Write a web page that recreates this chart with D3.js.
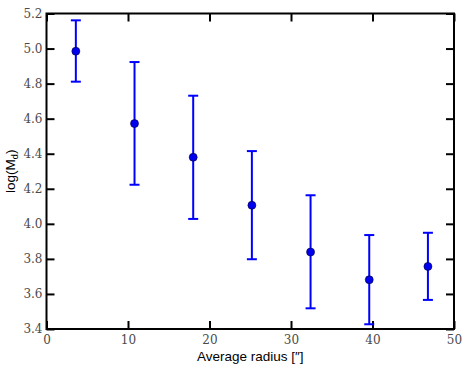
<!DOCTYPE html>
<html>
<head>
<meta charset="utf-8">
<script src="https://cdn.jsdelivr.net/npm/d3@7"></script>
<style>
    body { margin: 0; background: #fff; }
</style>
</head>
<body>
<div id="chart"></div>
<script>
// data
let radius = [3.6, 10.8, 18.0, 25.2, 32.4, 39.6, 46.8];
let logM = [4.985, 4.572, 4.380, 4.106, 3.839, 3.681, 3.757];
let errUp = [5.161, 4.923, 4.731, 4.415, 4.163, 3.936, 3.949];
let errLow = [4.811, 4.223, 4.028, 3.798, 3.518, 3.427, 3.566];
let xTicks = [0, 10, 20, 30, 40, 50];
let yTicks = [3.4, 3.6, 3.8, 4.0, 4.2, 4.4, 4.6, 4.8, 5.0, 5.2];

let points = radius.map((r, i) => ({x: r, y: logM[i], hi: errUp[i], lo: errLow[i]}));

// svg size and margins
let svgWidth = 468;
let svgHeight = 371;
let margin = {top: 13.5, right: 14, bottom: 42, left: 46.5};
let width = svgWidth - margin.left - margin.right;
let height = svgHeight - margin.top - margin.bottom;

let svg = d3.select('#chart')
    .append('svg')
    .attr('width', svgWidth)
    .attr('height', svgHeight);

let chartGroup = svg.append('g')
    .attr('transform', `translate(${margin.left}, ${margin.top})`);

let x = d3.scaleLinear().domain([0, 50]).range([0, width]);
let y = d3.scaleLinear().domain([3.4, 5.2]).range([height, 0]);

// inward ticks on all four sides, serif tick labels
function styleAxis(g) {
    g.attr('font-family', 'DejaVu Serif').attr('font-size', 12);
    g.select('.domain').remove();
    g.selectAll('.tick line').attr('stroke', '#000').attr('stroke-width', 2);
    g.selectAll('.tick text').attr('fill', '#4a4a4a');
}

chartGroup.append('g')
    .attr('transform', `translate(0,${height})`)
    .call(d3.axisBottom(x).tickValues(xTicks).tickSizeInner(-8).tickPadding(6).tickFormat(d3.format('d')))
    .call(styleAxis);

chartGroup.append('g')
    .call(d3.axisTop(x).tickValues(xTicks).tickSizeInner(-8).tickFormat(''))
    .call(styleAxis);

chartGroup.append('g')
    .call(d3.axisLeft(y).tickValues(yTicks).tickSizeInner(-8).tickPadding(4).tickFormat(d3.format('.1f')))
    .call(styleAxis);

chartGroup.append('g')
    .attr('transform', `translate(${width},0)`)
    .call(d3.axisRight(y).tickValues(yTicks).tickSizeInner(-8).tickFormat(''))
    .call(styleAxis);

// error bars
let bars = chartGroup.selectAll('.err')
    .data(points)
    .enter()
    .append('g')
    .attr('class', 'err')
    .attr('stroke', '#0000ff')
    .attr('stroke-width', 2);

bars.append('line')
    .attr('x1', d => x(d.x)).attr('x2', d => x(d.x))
    .attr('y1', d => y(d.hi)).attr('y2', d => y(d.lo));

bars.append('line')
    .attr('x1', d => x(d.x) - 5).attr('x2', d => x(d.x) + 5)
    .attr('y1', d => y(d.hi)).attr('y2', d => y(d.hi));

bars.append('line')
    .attr('x1', d => x(d.x) - 5).attr('x2', d => x(d.x) + 5)
    .attr('y1', d => y(d.lo)).attr('y2', d => y(d.lo));

// markers
chartGroup.selectAll('circle')
    .data(points)
    .enter()
    .append('circle')
    .attr('cx', d => x(d.x))
    .attr('cy', d => y(d.y))
    .attr('r', 4)
    .attr('fill', '#0000ee')
    .attr('stroke', '#000033')
    .attr('stroke-width', 0.6);

// frame
chartGroup.append('rect')
    .attr('width', width)
    .attr('height', height)
    .attr('fill', 'none')
    .attr('stroke', '#000')
    .attr('stroke-width', 2);

// axis labels
chartGroup.append('text')
    .attr('x', width / 2)
    .attr('y', height + 32)
    .attr('text-anchor', 'middle')
    .style('font-family', '"Liberation Sans", Arial, sans-serif')
    .style('font-size', '13.5px')
    .text('Average radius [″]');

let yLabel = chartGroup.append('text')
    .attr('transform', 'rotate(-90)')
    .attr('x', -height / 2)
    .attr('y', -32)
    .attr('text-anchor', 'middle')
    .style('font-family', '"Liberation Sans", Arial, sans-serif')
    .style('font-size', '13.5px');

yLabel.append('tspan').text('log(M');
yLabel.append('tspan').attr('dy', 3).style('font-size', '9px').text('d');
yLabel.append('tspan').attr('dy', -3).text(')');
</script>
</body>
</html>
